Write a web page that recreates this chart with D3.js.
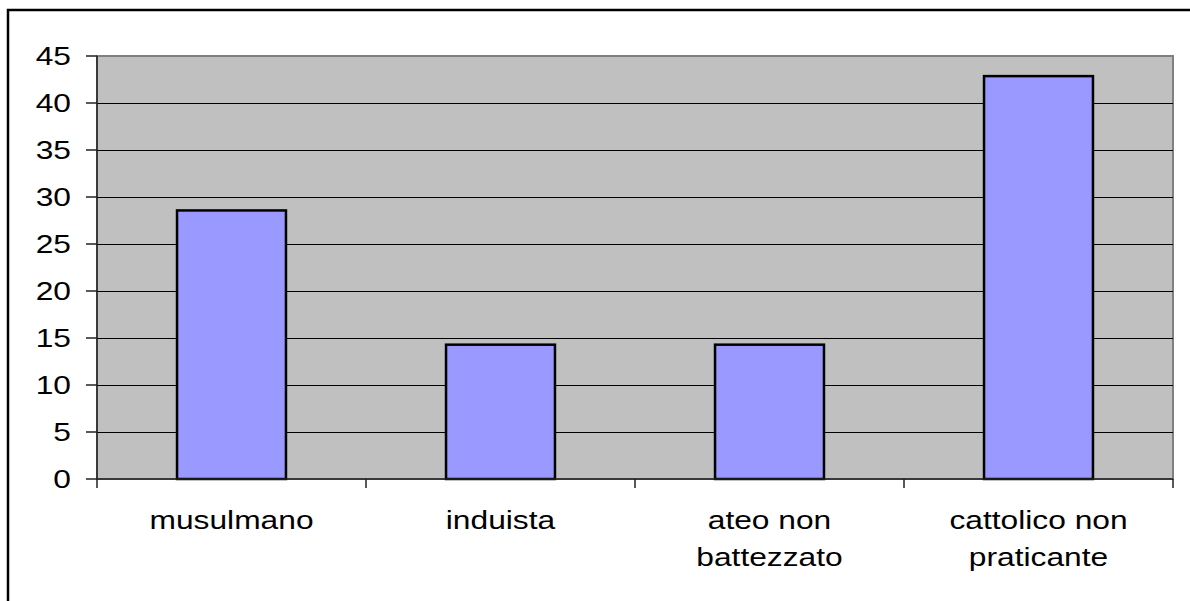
<!DOCTYPE html>
<html>
<head>
<meta charset="utf-8">
<script src="https://cdnjs.cloudflare.com/ajax/libs/d3/7.8.5/d3.min.js"></script>
<style>
  body { margin: 0; background: #fff; }
  text { font-family: "Liberation Sans", Arial, sans-serif; fill: #000; }
</style>
</head>
<body>
<div id="chart"></div>
<script>
// Data
const categories = [["musulmano"], ["induista"], ["ateo non", "battezzato"], ["cattolico non", "praticante"]];
const values = [28.57, 14.29, 14.29, 42.86];
const yTicks = [0, 5, 10, 15, 20, 25, 30, 35, 40, 45];

const W = 1190, H = 601;
const margin = {top: 56, right: 17, bottom: 122, left: 97};
const width = W - margin.left - margin.right,
      height = H - margin.top - margin.bottom;
const sx = 1.27; // horizontal stretch of the text
const fontSize = 25;

const svg = d3.select("#chart")
    .append("svg")
    .attr("width", W)
    .attr("height", H);

// outer frame (cut off on the right and bottom)
svg.append("rect")
    .attr("x", 8).attr("y", 10)
    .attr("width", W + 10).attr("height", H + 10)
    .attr("fill", "none")
    .attr("stroke", "#000")
    .attr("stroke-width", 2.5);

const g = svg.append("g")
    .attr("transform", "translate(" + margin.left + "," + margin.top + ")");

const x = d3.scaleBand()
    .domain(d3.range(categories.length))
    .range([0, width])
    .paddingInner(0)
    .paddingOuter(0);

const y = d3.scaleLinear()
    .domain([0, 45])
    .range([height, 0]);

// plot background
g.append("rect")
    .attr("width", width)
    .attr("height", height)
    .attr("fill", "#c0c0c0")
    .attr("stroke", "#808080")
    .attr("stroke-width", 2);

// gridlines
g.append("g")
    .selectAll("line")
    .data(yTicks.filter(d => d > 0 && d < 45))
    .join("line")
    .attr("x1", 0).attr("x2", width)
    .attr("y1", d => Math.round(y(d)) + 0.5)
    .attr("y2", d => Math.round(y(d)) + 0.5)
    .attr("stroke", "#000")
    .attr("stroke-width", 1.2);

// bars
const barW = x.bandwidth() * 0.405;
g.append("g")
    .selectAll("rect")
    .data(values)
    .join("rect")
    .attr("x", (d, i) => x(i) + (x.bandwidth() - barW) / 2)
    .attr("y", d => y(d))
    .attr("width", barW)
    .attr("height", d => y(0) - y(d))
    .attr("fill", "#9999ff")
    .attr("stroke", "#000")
    .attr("stroke-width", 2.5);

// y axis
g.append("line")
    .attr("x1", 0).attr("x2", 0)
    .attr("y1", 0).attr("y2", height)
    .attr("stroke", "#222").attr("stroke-width", 1.5);

const yt = g.append("g")
    .selectAll("g")
    .data(yTicks)
    .join("g")
    .attr("transform", d => "translate(0," + y(d) + ")");
yt.append("line")
    .attr("x1", -11).attr("x2", 0)
    .attr("stroke", "#222").attr("stroke-width", 1.5);
yt.append("text")
    .attr("transform", "translate(-26,0) scale(" + sx + ",1)")
    .attr("text-anchor", "end")
    .attr("dy", "0.35em")
    .style("font-size", fontSize + "px")
    .text(d => d);

// x axis
g.append("line")
    .attr("x1", 0).attr("x2", width)
    .attr("y1", height).attr("y2", height)
    .attr("stroke", "#222").attr("stroke-width", 1.5);

g.append("g")
    .selectAll("line")
    .data(d3.range(categories.length + 1))
    .join("line")
    .attr("x1", d => d * x.step()).attr("x2", d => d * x.step())
    .attr("y1", height).attr("y2", height + 9)
    .attr("stroke", "#222").attr("stroke-width", 1.5);

const xl = g.append("g")
    .selectAll("text")
    .data(categories)
    .join("text")
    .attr("transform", (d, i) => "translate(" + (x(i) + x.bandwidth() / 2) + "," + (height + 50) + ") scale(" + sx + ",1)")
    .attr("text-anchor", "middle")
    .style("font-size", fontSize + "px");
xl.selectAll("tspan")
    .data(d => d)
    .join("tspan")
    .attr("x", 0)
    .attr("y", (d, i) => i * 37)
    .text(d => d);
</script>
</body>
</html>
